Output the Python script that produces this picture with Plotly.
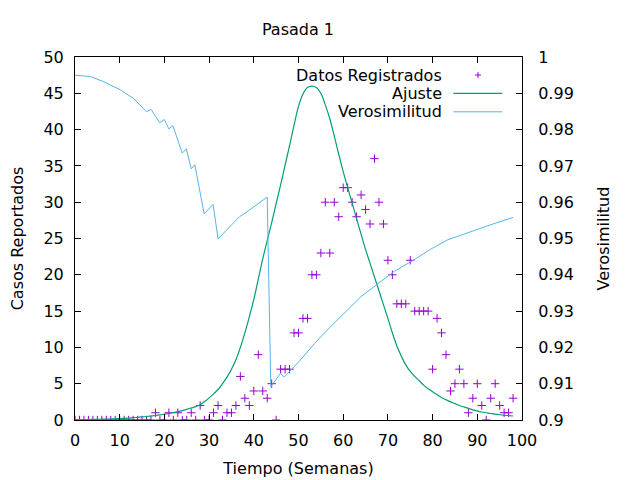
import plotly.graph_objects as go

# datos semanales (casos reportados)
semanas = list(range(99))
casos = [0, 0, 0, 0, 0, 0, 0, 0, 0, 0,
         0, 0, 0, 0, 0, 0, 0, 0, 1, 0,
         0, 1, 0, 1, 0, 0, 1, 0, 2, 0,
         0, 1, 2, 0, 1, 1, 2, 6, 3, 2,
         4, 9, 4, 3, 5, 0, 7, 7, 7, 12,
         12, 14, 14, 20, 20, 23, 30, 23, 30, 28,
         32, 32, 30, 28, 31, 29, 27, 36, 30, 27,
         22, 20, 16, 16, 16, 22, 15, 15, 15, 15,
         7, 14, 12, 9, 4, 5, 7, 5, 1, 3,
         5, 2, 0, 3, 5, 2, 1, 1, 3]

# curva de ajuste
ajuste = [0.04, 0.05, 0.06, 0.07, 0.08, 0.09, 0.11, 0.13, 0.15, 0.17,
          0.20, 0.23, 0.27, 0.32, 0.37, 0.42, 0.48, 0.55, 0.62, 0.70,
          0.80, 0.90, 1.02, 1.15, 1.30, 1.47, 1.65, 1.85, 2.10, 2.55,
          3.05, 3.60, 4.20, 5.00, 5.90, 7.00, 8.30, 10.0, 12.0, 14.2,
          16.6, 19.4, 22.2, 24.7, 27.2, 29.8, 32.4, 35.1, 37.8, 40.6,
          43.2, 44.9, 45.8, 46.0, 45.8, 45.0, 43.4, 41.5, 39.1, 36.6,
          34.2, 32.0, 29.9, 27.7, 25.6, 23.5, 21.6, 19.7, 17.8, 15.9,
          14.0, 12.0, 10.2, 8.8, 7.6, 6.7, 6.0, 5.4, 4.8, 4.3,
          3.9, 3.5, 3.1, 2.8, 2.5, 2.25, 2.0, 1.8, 1.6, 1.4,
          1.25, 1.1, 1.0, 0.9, 0.8, 0.72, 0.65, 0.6, 0.55]

# verosimilitud (eje derecho)
vero_x = [0, 3.5, 6.4, 10.2, 13.1, 14.6, 16.0, 17.0, 18.95, 20.0,
          21.0, 21.9, 24.0, 24.9, 26.0, 26.8, 28.9, 30.9, 32.0, 36.8,
          37.7, 43.0, 43.8, 46.0, 46.8, 50.4, 53.6, 57.0, 60.9, 64.0,
          67.6, 71.5, 75.8, 79.5, 83.3, 87.0, 90.0, 94.0, 98.0]
vero_y = [0.9950, 0.9946, 0.9932, 0.9909, 0.9886, 0.9868, 0.9849, 0.9856, 0.9819, 0.9828,
          0.9802, 0.9811, 0.9735, 0.9747, 0.9692, 0.9703, 0.9568, 0.9594, 0.9499, 0.9560,
          0.9567, 0.9614, 0.9092, 0.9129, 0.9118, 0.9165, 0.9211, 0.9255, 0.9303, 0.9340,
          0.9374, 0.9410, 0.9441, 0.9470, 0.9496, 0.9513, 0.9525, 0.9542, 0.9558]

y2_ticks = [0.9, 0.91, 0.92, 0.93, 0.94, 0.95, 0.96, 0.97, 0.98, 0.99, 1.0]
y2_labels = ["0.9", "0.91", "0.92", "0.93", "0.94", "0.95", "0.96", "0.97", "0.98", "0.99", "1"]

morado = "#9400D3"
verde = "#009E73"
celeste = "#56B4E9"
letra = dict(family="DejaVu Sans", size=16, color="black")

fig = go.Figure()
fig.add_trace(go.Scatter(x=semanas, y=casos, mode="markers", name="Datos Registrados",
                         marker=dict(symbol="cross-thin", size=6, color=morado,
                                     line=dict(width=1, color=morado))))
fig.add_trace(go.Scatter(x=semanas, y=ajuste, mode="lines", name="Ajuste",
                         line=dict(color=verde, width=1.2, shape="spline")))
fig.add_trace(go.Scatter(x=vero_x, y=vero_y, mode="lines", name="Verosimilitud",
                         yaxis="y2", line=dict(color=celeste, width=1)))

eje = dict(showline=True, linecolor="black", linewidth=1, ticks="inside", ticklen=6,
           tickcolor="black", showgrid=False, zeroline=False, automargin=False,
           tickfont=letra)

# la pagina tiene 8px de margen en el body, se compensa aqui
fig.update_layout(
    width=640, height=480,
    margin=dict(l=67, r=126, t=49, b=68),
    paper_bgcolor="white", plot_bgcolor="white",
    font=letra,
    showlegend=False,
    title=dict(text="Pasada 1", x=290 / 640, xanchor="center", y=1 - 21 / 480, yanchor="middle",
               font=letra, automargin=False),
    xaxis=dict(range=[0, 100], dtick=10, mirror="ticks", ticklabelstandoff=6,
               title=dict(text="Tiempo (Semanas)", standoff=13, font=letra), **eje),
    yaxis=dict(range=[0, 50], dtick=5, mirror=True, ticklabelstandoff=7,
               title=dict(text="Casos Reportados", standoff=21, font=letra), **eje),
    yaxis2=dict(range=[0.9, 1.0], overlaying="y", side="right", tickvals=y2_ticks,
                ticktext=y2_labels, ticklabelstandoff=12,
                title=dict(text="Verosimilitud", standoff=24, font=letra), **eje),
)

# leyenda estilo gnuplot: texto a la izquierda, muestra a la derecha
filas = [("Datos Registrados", 0.9504), ("Ajuste", 0.900), ("Verosimilitud", 0.849)]
for texto, yy in filas:
    fig.add_annotation(text=texto, xref="paper", yref="paper", x=0.8262, y=yy,
                       xanchor="right", yanchor="middle", showarrow=False, font=letra)
fig.add_shape(type="line", xref="paper", yref="paper", x0=0.8463, x1=0.9559, y0=0.900, y1=0.900,
              line=dict(color=verde, width=1.2))
fig.add_shape(type="line", xref="paper", yref="paper", x0=0.8463, x1=0.9559, y0=0.849, y1=0.849,
              line=dict(color=celeste, width=1))
fig.add_shape(type="line", xref="paper", yref="paper", x0=0.9016 - 3 / 447, x1=0.9016 + 3 / 447,
              y0=0.9504, y1=0.9504, line=dict(color=morado, width=1))
fig.add_shape(type="line", xref="paper", yref="paper", x0=0.9016, x1=0.9016,
              y0=0.9504 - 3 / 363, y1=0.9504 + 3 / 363, line=dict(color=morado, width=1))

fig.write_html("out.html")
